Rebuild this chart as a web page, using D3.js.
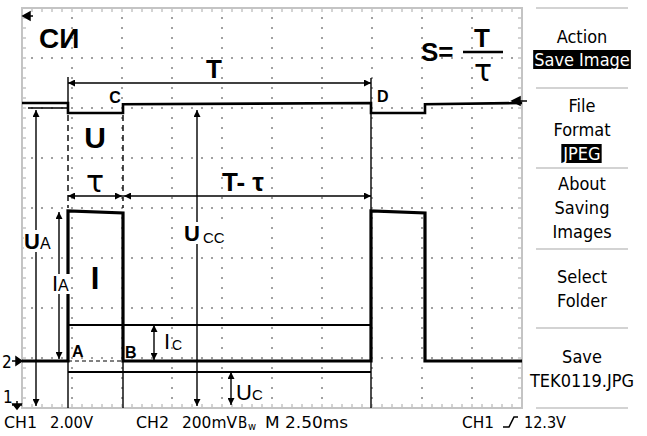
<!DOCTYPE html>
<html><head><meta charset="utf-8">
<script src="https://cdn.jsdelivr.net/npm/d3@7"></script>
<style>html,body{margin:0;padding:0;background:#fff;overflow:hidden}</style>
</head><body>
<script>
// ---- data ----
const timeMs   = [0, 2.3, 2.3, 5.05, 5.05, 17.45, 17.45, 20.15, 20.15, 25];   // time axis, 2.50 ms/div
const ch1Volts = [12.2, 12.2, 11.8, 11.8, 12.15, 12.2, 11.8, 11.8, 12.15, 12.2]; // CH1, 2.00 V/div
const ch2mV    = [0, 0, 600, 592, 0, 0, 600, 592, 0, 0];                       // CH2, 200 mV/div
const bottomLabels = ["CH1", "2.00V", "CH2", "200mV", "M 2.50ms", "CH1", "12.3V"];
const menuItems = [["Action", "Save Image"], ["File", "Format", "JPEG"], ["About", "Saving", "Images"], ["Select", "Folder"], ["Save", "TEK0119.JPG"]];
const edgeA = 2.3, edgeB = 5.05, edgeD = 17.45;

const W = 647, H = 436;
const svg = d3.select("body").append("svg").attr("width", W).attr("height", H);
const x = d3.scaleLinear().domain([0, 25]).range([22, 522]);
const y1 = d3.scaleLinear().domain([0, 16]).range([408, 8]);
const y2 = d3.scaleLinear().domain([0, 200]).range([361, 311]);

const grey = "#c4c4c4";
const dotGrey = "#a0a0a0";
const cond = "'DejaVu Sans Condensed','DejaVu Sans',sans-serif";
const sans = "'Liberation Sans',Arial,sans-serif";

// ---- graticule (dots) ----
const g = svg.append("g").attr("fill", dotGrey);
const dots = [];
for (let i = 1; i < 10; i++) {
  const gx = x(i * 2.5);
  for (let py = 18; py < 408; py += 10) dots.push([gx, py]);
}
for (let j = 1; j < 8; j++) {
  const gy = 8 + j * 50;
  for (let px = 32; px < 522; px += 10) dots.push([px, gy]);
}
g.selectAll("rect.dot").data(dots).join("rect").attr("class", "dot")
  .attr("x", d => d[0] - 1).attr("y", d => d[1] - 1).attr("width", 2).attr("height", 2);
// border ticks
const gt = svg.append("g").attr("stroke", grey).attr("stroke-width", 1.5);
for (let px = 32; px < 522; px += 10) {
  gt.append("line").attr("x1", px).attr("x2", px).attr("y1", 8).attr("y2", 12);
  gt.append("line").attr("x1", px).attr("x2", px).attr("y1", 404).attr("y2", 408);
}
for (let py = 18; py < 408; py += 10) {
  gt.append("line").attr("x1", 22).attr("x2", 26).attr("y1", py).attr("y2", py);
  gt.append("line").attr("x1", 518).attr("x2", 522).attr("y1", py).attr("y2", py);
}
svg.append("rect").attr("x", 22).attr("y", 8).attr("width", 500).attr("height", 400)
  .attr("fill", "none").attr("stroke", grey).attr("stroke-width", 2);

// ---- arrow markers ----
const defs = svg.append("defs");
defs.append("marker").attr("id", "ah").attr("viewBox", "0 0 10 10").attr("refX", 10).attr("refY", 5)
  .attr("markerWidth", 9).attr("markerHeight", 7).attr("markerUnits", "userSpaceOnUse").attr("orient", "auto-start-reverse")
  .append("path").attr("d", "M0,0L10,5L0,10Z").attr("fill", "#000");

const ann = svg.append("g").attr("stroke", "#000").attr("stroke-width", 1.4).attr("fill", "none");
function line(x1, y1_, x2, y2_, opts = {}) {
  const l = ann.append("line").attr("x1", x1).attr("y1", y1_).attr("x2", x2).attr("y2", y2_);
  if (opts.dash) l.attr("stroke-dasharray", opts.dash);
  if (opts.w) l.attr("stroke-width", opts.w);
  if (opts.start) l.attr("marker-start", "url(#ah)");
  if (opts.end) l.attr("marker-end", "url(#ah)");
  return l;
}
// T arrow
line(x(edgeA), 77, x(edgeA), y1(12.2));
line(x(edgeD), 78, x(edgeD), 408);
line(x(edgeA), 83, x(edgeD), 83, { start: 1, end: 1 });
// dashed verticals
line(x(edgeA), 115, x(edgeA), 208, { dash: "6,4" });
line(x(edgeB), 115, x(edgeB), 208, { dash: "6,4" });
// verticals below pulses
line(x(edgeA), y2(0), x(edgeA), 408);
line(x(edgeB), y2(0), x(edgeB), 408);
// tau and T-tau arrows
line(x(edgeA), 196, x(edgeB) - 1, 196, { start: 1, end: 1 });
line(x(edgeB) + 1, 196, x(edgeD), 196, { start: 1, end: 1 });
// horizontal reference lines
line(x(edgeA), 325, x(edgeD), 325, { w: 1.8 });
line(x(edgeA), 372, x(edgeD), 372, { w: 1.8 });
line(x(edgeA), y2(0), x(edgeB), y2(0), { dash: "4,3", w: 1 });
line(28, 108, x(edgeA), 108);
// U_A, U_CC, I_A, I_C, U_C
line(36, 110, 36, 406, { start: 1, end: 1 });
line(197, 110, 197, 406, { start: 1, end: 1 });
line(59, 212, 59, 359, { start: 1, end: 1 });
line(154, 325, 154, 360, { start: 1, end: 1 });
line(231, 372, 231, 405, { start: 1, end: 1 });

// ---- traces ----
const lineGen = d3.line();
svg.append("path").attr("d", lineGen(timeMs.map((t, i) => [x(t), y1(ch1Volts[i])])))
  .attr("fill", "none").attr("stroke", "#000").attr("stroke-width", 2.6);
svg.append("path").attr("d", lineGen(timeMs.map((t, i) => [x(t), y2(ch2mV[i])])))
  .attr("fill", "none").attr("stroke", "#000").attr("stroke-width", 3.2);

// ---- labels ----
function txt(s, xx, yy, size, opts = {}) {
  return svg.append("text").attr("x", xx).attr("y", yy).attr("font-size", size)
    .attr("font-family", opts.font || sans).attr("font-weight", opts.bold ? "bold" : "normal")
    .attr("text-anchor", opts.anchor || "start").attr("fill", opts.fill || "#000").text(s);
}
function bg(x0, y0, w, h) { svg.append("rect").attr("x", x0).attr("y", y0).attr("width", w).attr("height", h).attr("fill", "#fff"); }

txt("СИ", 39, 48, 28, { bold: 1 });
txt("T", 214, 78, 26, { bold: 1, anchor: "middle" });
txt("S=", 421, 61, 26, { bold: 1 });
svg.append("line").attr("x1", 463).attr("x2", 503).attr("y1", 52).attr("y2", 52).attr("stroke", "#000").attr("stroke-width", 2.5);
txt("T", 482, 47, 26, { bold: 1, anchor: "middle" });
txt("τ", 483, 81, 30, { anchor: "middle", font: "'DejaVu Sans',sans-serif" });
txt("C", 115, 103, 16, { bold: 1, anchor: "middle" });
txt("D", 377, 102, 16, { bold: 1 });
txt("U", 95, 148, 30, { bold: 1, anchor: "middle" });
txt("τ", 95, 192, 30, { anchor: "middle", font: "'DejaVu Sans',sans-serif" });
txt("T- τ", 222, 191, 26, { bold: 1 });
txt("I", 95, 289, 31, { bold: 1, anchor: "middle" });
txt("A", 72, 357, 16, { bold: 1 });
txt("B", 125, 358, 16, { bold: 1 });

bg(24, 230, 30, 22);
txt("U", 24, 249, 22, { bold: 1 });
txt("A", 40, 249, 16);
bg(184, 222, 46, 22);
txt("U", 184, 241, 22, { bold: 1 });
txt("CC", 203, 243, 15);
bg(51, 274, 19, 20);
txt("I", 52, 291, 22);
txt("A", 58, 291, 16);
txt("I", 164, 349, 22);
txt("C", 172, 350, 14);
txt("U", 236, 400, 22);
txt("C", 252, 400, 15);

// channel markers
txt("2", 2, 368, 17, { font: cond });
svg.append("path").attr("d", "M12,361L16,361M22,361L16,357L16,365Z").attr("stroke", "#000").attr("stroke-width", 1.5).attr("fill", "#000");
txt("1", 3, 403, 17, { font: cond });
svg.append("path").attr("d", "M12,405L22,405M17,401L17,404M17,409L13,404L21,404Z").attr("stroke", "#000").attr("stroke-width", 1.5).attr("fill", "#000");
// level arrows
svg.append("path").attr("d", "M23,16L30,12L30,20Z M30,16L33,16").attr("stroke", "#000").attr("stroke-width", 1.5).attr("fill", "#000");
svg.append("path").attr("d", "M512,101L520,97L520,105Z M520,101L527,101").attr("stroke", "#000").attr("stroke-width", 1.5).attr("fill", "#000");

// ---- bottom status line ----
const by = 428;
txt(bottomLabels[0], 4, by, 16, { font: cond }).attr("textLength", 33).attr("lengthAdjust", "spacingAndGlyphs");
txt(bottomLabels[1], 50, by, 16, { font: cond }).attr("textLength", 43).attr("lengthAdjust", "spacingAndGlyphs");
txt(bottomLabels[2], 136, by, 16, { font: cond }).attr("textLength", 33).attr("lengthAdjust", "spacingAndGlyphs");
txt(bottomLabels[3], 182, by, 16, { font: cond }).attr("textLength", 55).attr("lengthAdjust", "spacingAndGlyphs");
txt("B", 238, by, 15, { font: cond });
txt("w", 248, by + 2, 11, { font: cond });
txt(bottomLabels[4], 265, by, 16, { font: cond }).attr("textLength", 83).attr("lengthAdjust", "spacingAndGlyphs");
txt(bottomLabels[5], 462, by, 16, { font: cond }).attr("textLength", 32).attr("lengthAdjust", "spacingAndGlyphs");
svg.append("path").attr("d", "M503,427L509,427L514,417L518,417").attr("stroke", "#000").attr("stroke-width", 1.6).attr("fill", "none");
txt(bottomLabels[6], 524, by, 16, { font: cond }).attr("textLength", 42).attr("lengthAdjust", "spacingAndGlyphs");

// ---- right menu ----
const mx = 582;
[8, 88, 168, 249, 328, 408].forEach(yy => {
  svg.append("line").attr("x1", 536).attr("x2", 628).attr("y1", yy).attr("y2", yy).attr("stroke", grey).attr("stroke-width", 1.5);
});
const menuBase = [[43, 66], [112, 136, 160], [190, 214, 238], [283, 307], [363, 387]];
menuItems.forEach((grp, gi) => {
  grp.forEach((s, si) => {
    const yy = menuBase[gi][si];
    const hl = (s === "Save Image" || s === "JPEG");
    const t = txt(s, mx, yy, 18, { font: cond, anchor: "middle", fill: hl ? "#fff" : "#000" });
    if (hl) {
      const bb = t.node().getBBox();
      svg.insert("rect", () => t.node()).attr("x", bb.x - 1).attr("y", yy - 16).attr("width", bb.width + 2).attr("height", 19).attr("fill", "#000");
    }
  });
});
</script>
</body></html>
